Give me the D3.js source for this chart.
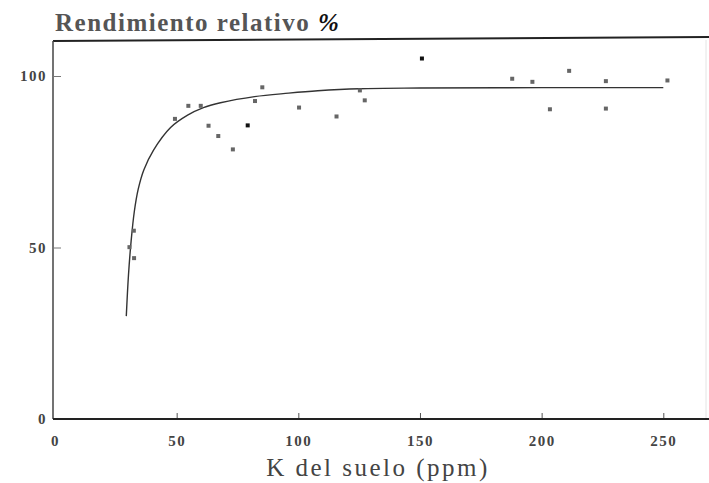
<!DOCTYPE html>
<html>
<head>
<meta charset="utf-8">
<script src="https://cdn.jsdelivr.net/npm/d3@7"></script>
<style>
  body { margin: 0; background: #fff; }
  svg { display: block; }
  text { font-family: "Liberation Serif", "Tinos", "Times New Roman", "DejaVu Serif", serif; }
</style>
</head>
<body>
<div class="chart"></div>
<script>
// observed points: K del suelo (ppm) / rendimiento relativo (%)
const k_ppm = [30.6, 32.4, 32.5, 49.3, 54.8, 59.9, 63.1, 67.1, 73.1, 79.2, 82.2, 85.2, 100.3, 115.7,
  125.3, 127.3, 150.8, 187.9, 196.2, 203.4, 211.3, 226.4, 226.4, 251.7]
const rend = [50.1, 54.9, 46.9, 87.5, 91.3, 91.3, 85.5, 82.5, 78.6, 85.6, 92.7, 96.7, 90.8, 88.2,
  95.8, 92.9, 105.1, 99.2, 98.3, 90.3, 101.5, 98.5, 90.5, 98.7]
const dark = [9, 16]   // points printed darker

// fitted curve
const curve_k = [29.3, 30.2, 31.3, 32.6, 34.2, 36.5, 40.5, 47.5, 54.5, 61, 68, 82, 96, 108, 125, 150, 200, 250]
const curve_r = [30, 42, 52, 60.5, 67, 72.6, 78.4, 85, 88.6, 90.8, 92.2, 94, 95, 95.7, 96.3, 96.5, 96.6, 96.6]

const x_ticks = [0, 50, 100, 150, 200, 250]
const y_ticks = [0, 50, 100]

const width = 709
const height = 483

const svg = d3.select(".chart").append("svg")
  .attr("width", width)
  .attr("height", height)

const x = d3.scaleLinear().domain([0, 250]).range([55, 663.3])
const y = d3.scaleLinear().domain([0, 100]).range([419, 76])

const ink = "#333"

// frame
svg.append("line")
  .attr("x1", 53).attr("x2", width).attr("y1", 41).attr("y2", 37)
  .attr("stroke", "#222").attr("stroke-width", 2)
svg.append("line")
  .attr("x1", 53).attr("x2", 53).attr("y1", 41).attr("y2", 419)
  .attr("stroke", "#444").attr("stroke-width", 1.5)
svg.append("line")
  .attr("x1", 53).attr("x2", width).attr("y1", 419).attr("y2", 419)
  .attr("stroke", "#222").attr("stroke-width", 2)
svg.append("line")
  .attr("x1", 706).attr("x2", 706).attr("y1", 40).attr("y2", 418)
  .attr("stroke", "#e4e4e4").attr("stroke-width", 1)

// x axis
const xAxis = svg.append("g")
  .attr("transform", "translate(0,419)")
  .call(d3.axisBottom(x).tickValues(x_ticks).tickSize(-5).tickPadding(16))
xAxis.select(".domain").remove()
xAxis.selectAll(".tick line").attr("stroke", "#555").attr("transform", "translate(0,-1)")
  .filter(d => d === 0).remove()
xAxis.selectAll("text")
  .attr("font-size", "15px").attr("font-weight", "bold")
  .attr("letter-spacing", "1.5px").attr("fill", "#444")

// y axis
const yAxis = svg.append("g")
  .attr("transform", "translate(53,0)")
  .call(d3.axisLeft(y).tickValues(y_ticks).tickSize(-8).tickPadding(6))
yAxis.select(".domain").remove()
yAxis.selectAll(".tick line").attr("stroke", "#777")
  .filter(d => d === 0).remove()
yAxis.selectAll("text")
  .attr("font-size", "15px").attr("font-weight", "bold")
  .attr("letter-spacing", "1.5px").attr("fill", "#444")
svg.selectAll("g").attr("font-family", null)

// fitted curve
const line = d3.line()
  .x(d => x(d[0]))
  .y(d => y(d[1]))
  .curve(d3.curveCatmullRom.alpha(0.5))

svg.append("path")
  .datum(d3.zip(curve_k, curve_r))
  .attr("d", line)
  .attr("fill", "none")
  .attr("stroke", ink)
  .attr("stroke-width", 1.4)

// points
svg.selectAll("rect.pt")
  .data(d3.zip(k_ppm, rend))
  .enter()
  .append("rect")
  .attr("class", "pt")
  .attr("x", d => x(d[0]) - 2)
  .attr("y", d => y(d[1]) - 2)
  .attr("width", 4)
  .attr("height", 4)
  .attr("fill", (d, i) => dark.includes(i) ? "#111" : "#666")

// titles
svg.append("text")
  .attr("x", 55).attr("y", 31)
  .attr("font-size", "25px").attr("font-weight", "bold")
  .attr("letter-spacing", "1.5px").attr("fill", "#555")
  .text("Rendimiento relativo ")
  .append("tspan").attr("fill", "#111").attr("font-style", "italic").text("%")

svg.append("text")
  .attr("x", 378).attr("y", 476)
  .attr("text-anchor", "middle")
  .attr("font-size", "25px")
  .attr("letter-spacing", "2.5px").attr("fill", "#444")
  .text("K del suelo (ppm)")
</script>
</body>
</html>
